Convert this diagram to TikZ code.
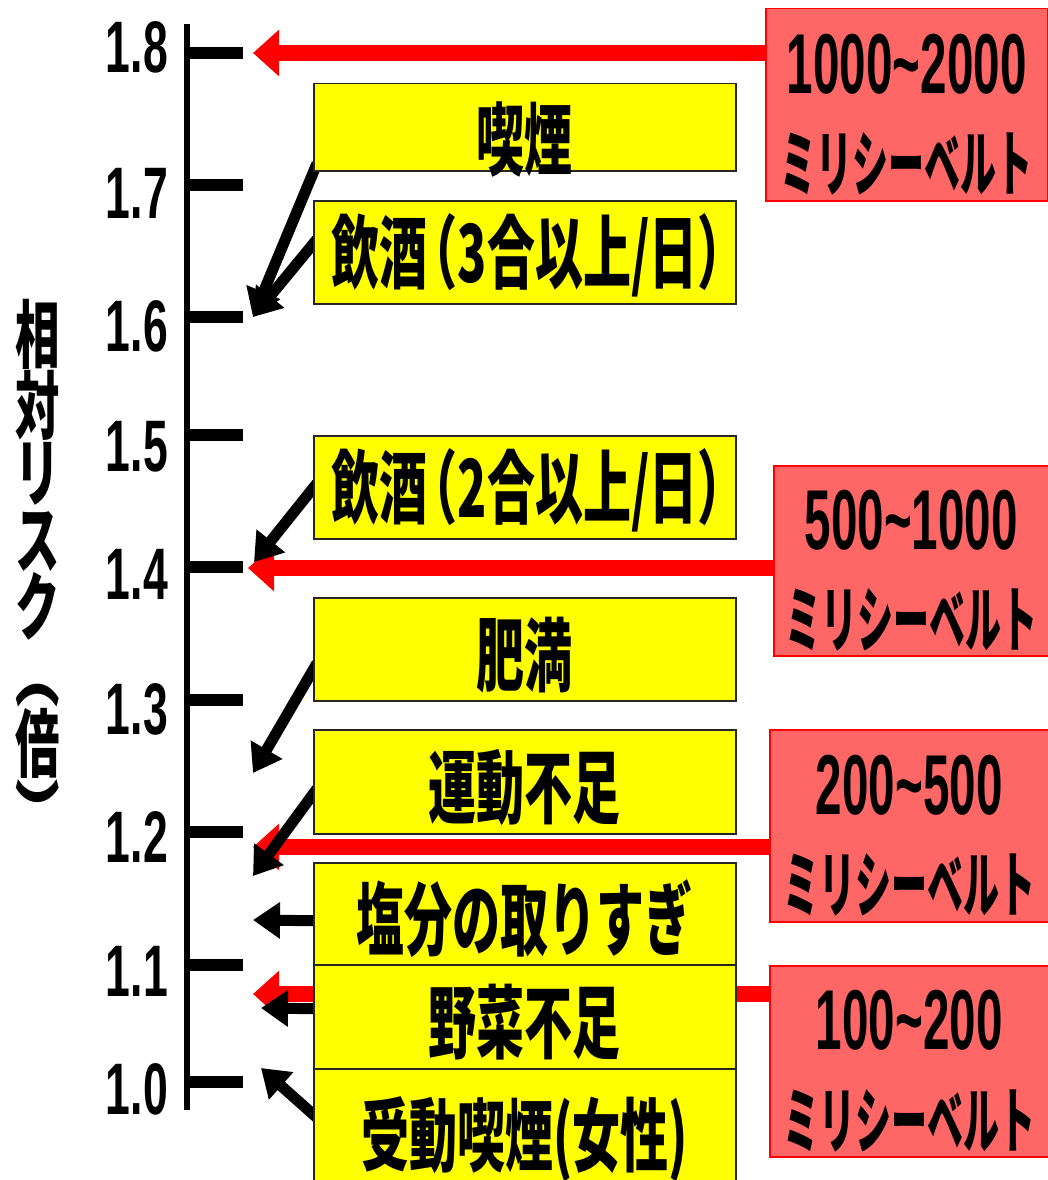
\documentclass[tikz,border=0pt]{standalone}
\usepackage{fontspec}
\usetikzlibrary{arrows.meta,calc}
\newfontfamily\jpA[FakeStretch=0.6]{Noto Sans CJK JP}
\newfontfamily\jpK[FakeStretch=0.5]{Noto Sans CJK JP}
\newfontfamily\numA[FakeStretch=0.61]{Liberation Sans}
\newfontfamily\numB[FakeStretch=0.56]{Liberation Sans}
\definecolor{pinkfill}{RGB}{255,102,102}
\definecolor{yfill}{RGB}{255,255,0}
\pgfdeclarelayer{bg}
\pgfsetlayers{bg,main}
\tikzset{
  ybox/.style={draw=black!85, line width=1.5, fill=yfill, minimum width=422, inner sep=0,
    anchor=north west, font=\jpA\bfseries\fontsize{80}{80}\selectfont, text height=72, text depth=0},
  ycent/.style={text height=61, text depth=0},
  pbox/.style={draw=red, line width=1.5, fill=pinkfill, inner sep=0, anchor=north west},
  pdig/.style={inner sep=0, font=\numB\bfseries\fontsize{85}{85}\selectfont, text height=61, text depth=0},
  pkat/.style={inner sep=0, font=\jpK\bfseries\fontsize{72}{72}\selectfont, text height=60, text depth=0},
  axlab/.style={inner sep=0, anchor=east, font=\numA\bfseries\fontsize{73}{73}\selectfont, text height=52, text depth=0},
  tickline/.style={line width=12},
  rarrow/.style={draw=red, line width=16, -{Triangle[length=26pt,width=45pt]}},
  barrow/.style={draw=black, line width=11, -{Triangle[length=27pt,width=35pt]}},
}
\newcommand\drinktext[1]{\kern4pt飲酒\kern-18pt（#1合以上/日）\kern-24pt}
\begin{document}
\begin{tikzpicture}[x=1pt,y=-1pt]
\useasboundingbox (0,0) rectangle (1048,1180);
% axis
\coordinate (axtop) at (187,24);
\coordinate (axbot) at (187,1110);
\draw[line width=6] (axtop) -- (axbot);
\foreach \i/\v/\y/\ly in {1/1.8/53/47, 2/1.7/185/192, 3/1.6/317/325, 4/1.5/435/445, 5/1.4/567/573, 6/1.3/700/708, 7/1.2/832/836, 8/1.1/965/970, 9/1.0/1082/1088}{
  \coordinate (tk\i) at (187,\y);
  \draw[tickline] (tk\i) -- ++(56,0);
  \node[axlab] (lab\i) at (168,\ly) {\v};
}
% vertical axis title
\node[inner sep=0, align=center, font=\jpA\bfseries\fontsize{74}{67}\selectfont] (ylab) at (38,570)
  {相\\対\\リ\\ス\\ク\\︵\\倍\\︶};

% yellow boxes
\node[ybox, minimum height=87, text height=84] (b1) at (313,83) {喫煙};
\node[ybox, ycent, minimum height=103] (b2) at (313,200) {\drinktext{3}};
\node[ybox, ycent, minimum height=103] (b3) at (313,435) {\drinktext{2}};
\node[ybox, minimum height=103] (b4) at (313,597) {肥満};
\node[ybox, minimum height=104] (b5) at (313,729) {運動不足};
\node[ybox, minimum height=102] (b6) at (313,862) {塩分の取りすぎ};
\node[ybox, minimum height=104] (b7) at (313,964) {野菜不足};
\node[ybox, minimum height=122] (b8) at (313,1068) {受動喫煙(女性)};

% pink boxes
\node[pbox, minimum width=282, minimum height=192] (p1) at (765,8) {};
\node[pbox, minimum width=275, minimum height=190] (p2) at (773,465) {};
\node[pbox, minimum width=279, minimum height=192] (p3) at (769,729) {};
\node[pbox, minimum width=279, minimum height=191] (p4) at (769,965) {};
\node[pdig] (p1n) at ($(p1.center)+(0,-42)$) {1000\textasciitilde 2000};
\node[pkat] (p1k) at ($(p1.center)+(0,56)$) {ミリシーベルト};
\node[pdig] (p2n) at ($(p2.center)+(0,-42)$) {500\textasciitilde 1000};
\node[pkat] (p2k) at ($(p2.center)+(0,56)$) {ミリシーベルト};
\node[pdig] (p3n) at ($(p3.center)+(0,-42)$) {200\textasciitilde 500};
\node[pkat] (p3k) at ($(p3.center)+(0,56)$) {ミリシーベルト};
\node[pdig] (p4n) at ($(p4.center)+(0,-42)$) {100\textasciitilde 200};
\node[pkat] (p4k) at ($(p4.center)+(0,56)$) {ミリシーベルト};

% arrow tips
\coordinate (r18) at (253,53);
\coordinate (r14) at (248,568);
\coordinate (r12) at (253,847);
\coordinate (r11) at (253,994);
\coordinate (t16) at (253,317);
\coordinate (t14) at (254,562);
\coordinate (t13) at (253,773);
\coordinate (t12) at (253,876);
\coordinate (t115) at (253,920);
\coordinate (t11) at (261,1008);
\coordinate (t10) at (261,1068);

\begin{pgfonlayer}{bg}
\draw[rarrow] (r18 -| p1.west) -- (r18);
\draw[rarrow] (r14 -| p2.west) -- (r14);
\draw[rarrow] (r12 -| p3.west) -- (r12);
\draw[rarrow] (r11 -| p4.west) -- (r11);
\draw[barrow] ($(b1.south west)+(4,-8)$) -- (t16);
\draw[barrow] ($(b2.west)+(4,-13)$) -- (t16);
\draw[barrow] ($(b3.west)+(4,-4)$) -- (t14);
\draw[barrow] ($(b4.west)+(4,14)$) -- (t13);
\draw[barrow] ($(b5.west)+(4,7)$) -- (t12);
\draw[barrow] ($(b6.west)+(4,7)$) -- (t115);
\draw[barrow] ($(b7.west)+(4,-8)$) -- (t11);
\draw[barrow] ($(b8.west)+(4,-12)$) -- (t10);
\end{pgfonlayer}
\end{tikzpicture}
\end{document}
